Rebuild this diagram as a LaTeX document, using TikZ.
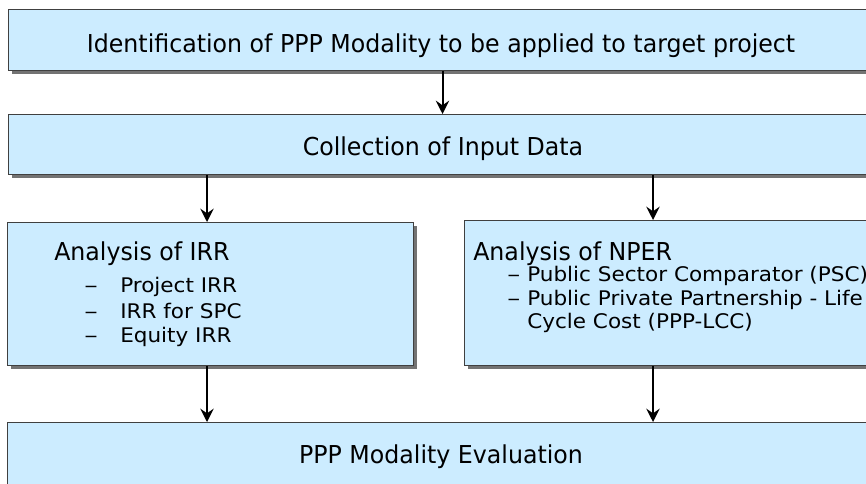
\documentclass[tikz,border=0pt]{standalone}
\usepackage{fontspec}
\setmainfont{DejaVu Sans}[FakeStretch=0.96]
\newfontfamily\subfont{DejaVu Sans}[FakeStretch=1.07]
\usetikzlibrary{arrows.meta,shadows}
\definecolor{boxblue}{HTML}{CCECFF}
\begin{document}
\begin{tikzpicture}[x=0.75pt,y=-0.75pt,
  box/.style={draw=black!75, line width=0.75pt, fill=boxblue, inner sep=0pt, anchor=north west,
    drop shadow={shadow xshift=2.25pt, shadow yshift=-2.25pt, fill=black!55, opacity=1}},
  arr/.style={line width=1.5pt, -{Stealth[length=10pt,width=10pt,inset=3.5pt]}},
  head/.style={font=\fontsize{18.5}{22}\selectfont, inner sep=0pt},
  sub/.style={font=\subfont\fontsize{15.1}{18}\selectfont, inner sep=0pt, anchor=base west}]
\useasboundingbox (0,0) rectangle (866,483);
\clip (0,0) rectangle (866,483);
\fill[white] (0,0) rectangle (866,483);
% boxes
\node[box, minimum width={868*0.75pt}, minimum height={61*0.75pt}] (A) at (8,9) {};
\node[box, minimum width={868*0.75pt}, minimum height={60*0.75pt}] (B) at (8,114) {};
\node[box, minimum width={406*0.75pt}, minimum height={143*0.75pt}] (C) at (7,222) {};
\node[box, minimum width={412*0.75pt}, minimum height={145*0.75pt}] (D) at (464,220) {};
\node[box, minimum width={870*0.75pt}, minimum height={90*0.75pt}] (E) at (7,422) {};
% texts
\node[head, anchor=base] (tA) at (441,52) {Identification of PPP Modality to be applied to target project};
\node[head, anchor=base] (tB) at (443,155) {Collection of Input Data};
\node[head, anchor=base west] (tC) at (54,260) {Analysis of IRR};
\node[sub] (c1d) at (84,292) {\scalebox{1.25}[1]{–}};
\node[sub] (c1) at (120,292) {Project IRR};
\node[sub] (c2d) at (84,318) {\scalebox{1.25}[1]{–}};
\node[sub] (c2) at (120,318) {IRR for SPC};
\node[sub] (c3d) at (84,342) {\scalebox{1.25}[1]{–}};
\node[sub] (c3) at (120,342) {Equity IRR};
\node[head, anchor=base west] (tD) at (473,260) {Analysis of NPER};
\node[sub] (d1d) at (507,281) {\scalebox{1.2}[1]{–}};
\node[sub] (d1) at (527,281) {Public Sector Comparator (PSC)};
\node[sub] (d2d) at (507,305) {\scalebox{1.2}[1]{–}};
\node[sub] (d2) at (527,305) {Public Private Partnership - Life};
\node[sub] (d3) at (527,328) {Cycle Cost (PPP-LCC)};
\node[head, anchor=base] (tE) at (441,463) {PPP Modality Evaluation};
% arrows
\coordinate (lx) at (207,0);
\coordinate (rx) at (653,0);
\draw[arr] (A.south) -- (B.north);
\draw[arr] (B.south -| lx) -- (C.north -| lx);
\draw[arr] (B.south -| rx) -- (D.north -| rx);
\draw[arr] (C.south -| lx) -- (E.north -| lx);
\draw[arr] (D.south -| rx) -- (E.north -| rx);
\end{tikzpicture}
\end{document}
